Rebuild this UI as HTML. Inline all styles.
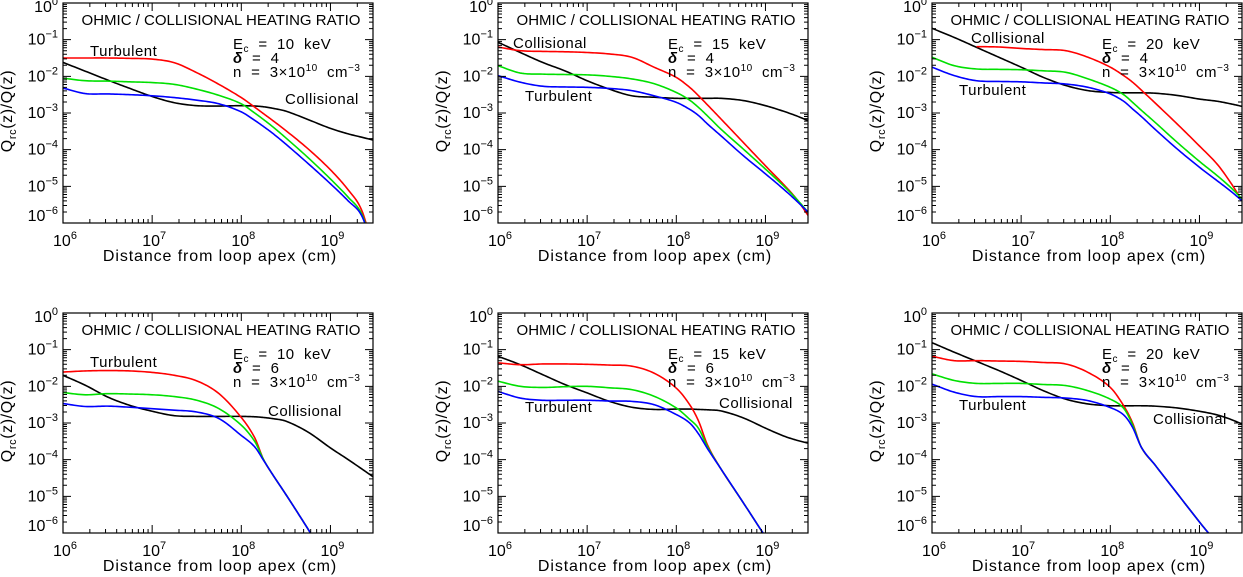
<!DOCTYPE html>
<html><head><meta charset="utf-8"><style>
html,body{margin:0;padding:0;background:#fff;overflow:hidden;width:1243px;height:577px;}
svg{display:block;font-family:"Liberation Sans",sans-serif;overflow:hidden;}
text{white-space:pre;}
</style></head><body>
<svg id="fig" width="1243" height="577" viewBox="0 0 1243 577" xmlns="http://www.w3.org/2000/svg"></svg>
<script>
// shared x grid: log10(distance/cm)
const xLog = [6,6.25,6.5,6.75,7,7.25,7.5,7.75,8,8.15,8.25,8.35,8.5,8.75,9,9.2,9.35,9.48];
const xTickExps = [6,7,8,9];
const yTickExps = [0,-1,-2,-3,-4,-5,-6];
// log10 of ratio; null = not drawn
const p1Red   = [-1.5,-1.5,-1.5,-1.51,-1.53,-1.63,-1.9,-2.22,-2.58,-2.84,-3.02,-3.2,-3.48,-3.98,-4.55,-5.1,-5.65,-6.7];
const p1Green = [-2.05,-2.12,-2.13,-2.15,-2.17,-2.22,-2.35,-2.52,-2.75,-3.0,-3.18,-3.37,-3.68,-4.22,-4.8,-5.3,-5.75,-6.7];
const p1Blue  = [-2.32,-2.47,-2.48,-2.5,-2.53,-2.58,-2.65,-2.75,-2.97,-3.2,-3.37,-3.55,-3.85,-4.38,-4.93,-5.4,-5.8,-6.7];
const p1Black = [-1.62,-1.86,-2.1,-2.33,-2.55,-2.72,-2.8,-2.81,-2.8,-2.81,-2.83,-2.87,-2.95,-3.18,-3.42,-3.57,-3.66,-3.74];
const p2Red   = [-1.2,-1.3,-1.32,-1.33,-1.35,-1.39,-1.48,-1.75,-2.03,-2.3,-2.53,-2.78,-3.16,-3.8,-4.44,-4.94,-5.35,-5.8];
const p2Green = [-1.71,-1.91,-1.94,-1.95,-1.96,-2.0,-2.07,-2.2,-2.44,-2.65,-2.85,-3.08,-3.44,-3.98,-4.53,-4.98,-5.35,-5.71];
const p2Blue  = [-1.98,-2.16,-2.27,-2.29,-2.3,-2.33,-2.39,-2.53,-2.71,-2.9,-3.07,-3.3,-3.62,-4.16,-4.66,-5.07,-5.4,-5.71];
const p2Black = [-1.07,-1.35,-1.62,-1.85,-2.12,-2.35,-2.53,-2.57,-2.6,-2.6,-2.6,-2.6,-2.6,-2.66,-2.8,-2.95,-3.08,-3.21];
const p3Red   = [null,null,-1.19,-1.2,-1.24,-1.27,-1.3,-1.48,-1.75,-1.98,-2.16,-2.38,-2.72,-3.3,-3.9,-4.4,-4.9,-5.4];
const p3Green = [-1.48,-1.71,-1.8,-1.81,-1.82,-1.85,-1.89,-2.07,-2.3,-2.5,-2.71,-2.93,-3.25,-3.8,-4.32,-4.71,-5.03,-5.35];
const p3Blue  = [-1.75,-1.98,-2.12,-2.14,-2.15,-2.18,-2.21,-2.3,-2.48,-2.68,-2.89,-3.1,-3.44,-3.98,-4.48,-4.85,-5.13,-5.4];
const p3Black = [-0.69,-0.94,-1.21,-1.48,-1.75,-2.03,-2.25,-2.39,-2.44,-2.45,-2.45,-2.45,-2.46,-2.52,-2.62,-2.68,-2.75,-2.82];
const p4Red   = [-1.61,-1.58,-1.57,-1.58,-1.62,-1.7,-1.85,-2.2,-2.85,-3.4,-4.0,-4.4,-4.95,-5.9,-6.9,-7.7,-8.3,-8.8];
const p4Green = [-2.17,-2.23,-2.2,-2.21,-2.23,-2.28,-2.38,-2.61,-3.06,-3.5,-4.0,-4.4,-4.95,-5.9,-6.9,-7.7,-8.3,-8.8];
const p4Blue  = [-2.47,-2.55,-2.54,-2.57,-2.61,-2.65,-2.7,-2.88,-3.34,-3.65,-4.02,-4.4,-4.95,-5.9,-6.9,-7.7,-8.3,-8.8];
const p4Black = [-1.7,-1.97,-2.29,-2.52,-2.68,-2.8,-2.82,-2.82,-2.82,-2.83,-2.85,-2.88,-2.95,-3.25,-3.68,-4.0,-4.25,-4.47];
const p5Red   = [-1.36,-1.41,-1.39,-1.39,-1.4,-1.42,-1.45,-1.64,-2.05,-2.5,-2.95,-3.6,-4.25,-5.17,-6.1,-6.8,-7.4,-7.9];
const p5Green = [-1.86,-2.0,-2.03,-2.01,-2.0,-2.04,-2.09,-2.27,-2.59,-2.9,-3.15,-3.65,-4.25,-5.17,-6.1,-6.8,-7.4,-7.9];
const p5Blue  = [-2.14,-2.32,-2.38,-2.38,-2.38,-2.4,-2.41,-2.5,-2.77,-3.0,-3.3,-3.7,-4.25,-5.17,-6.1,-6.8,-7.4,-7.9];
const p5Black = [-1.18,-1.41,-1.68,-1.95,-2.18,-2.41,-2.57,-2.63,-2.62,-2.62,-2.63,-2.64,-2.67,-2.86,-3.14,-3.35,-3.47,-3.55];
const p6Red   = [-1.18,-1.3,-1.3,-1.31,-1.32,-1.35,-1.39,-1.62,-2.03,-2.53,-3.0,-3.67,-4.14,-4.92,-5.7,-6.3,-6.8,-7.2];
const p6Green = [-1.66,-1.84,-1.92,-1.92,-1.92,-1.95,-1.98,-2.12,-2.35,-2.6,-3.05,-3.67,-4.14,-4.92,-5.7,-6.3,-6.8,-7.2];
const p6Blue  = [-1.94,-2.16,-2.28,-2.28,-2.28,-2.3,-2.32,-2.39,-2.58,-2.78,-3.12,-3.67,-4.14,-4.92,-5.7,-6.3,-6.8,-7.2];
const p6Black = [-0.81,-1.07,-1.32,-1.57,-1.84,-2.12,-2.35,-2.48,-2.53,-2.53,-2.53,-2.53,-2.54,-2.59,-2.68,-2.78,-2.9,-3.03];
const panelEc = ["10","15","20","10","15","20"];
const panelDelta = ["4","4","4","6","6","6"];

const NS="http://www.w3.org/2000/svg";
const svg=document.getElementById('fig');
function mk(tag,attrs,parent){const e=document.createElementNS(NS,tag);for(const k in attrs)e.setAttribute(k,attrs[k]);(parent||svg).appendChild(e);return e;}

const PW=310, PH=220, XMIN=6, XMAX=Math.log10(3e9), YMIN=-6, YMAX=0;
const panels=[
 {left:63,top:3,series:[p1Black,p1Red,p1Green,p1Blue],turb:[90,56],coll:[285,104]},
 {left:498,top:3,series:[p2Black,p2Red,p2Green,p2Blue],turb:[525,101],coll:[513,48]},
 {left:932,top:3,series:[p3Black,p3Red,p3Green,p3Blue],turb:[959,95],coll:[971,43]},
 {left:63,top:313,series:[p4Black,p4Red,p4Green,p4Blue],turb:[90,367],coll:[268,416]},
 {left:498,top:313,series:[p5Black,p5Red,p5Green,p5Blue],turb:[525,412],coll:[719,408]},
 {left:932,top:313,series:[p6Black,p6Red,p6Green,p6Blue],turb:[959,410],coll:[1153,424]}
];
const colors=["#000","#ff0000","#00e000","#0000ff"];
const sNames=["collisional-curve","red-curve","green-curve","blue-curve"];

function smoothSample(xs,ys){
  const n=xs.length, m=new Array(n);
  for(let i=0;i<n;i++){
    if(i===0) m[i]=(ys[1]-ys[0])/(xs[1]-xs[0]);
    else if(i===n-1) m[i]=(ys[n-1]-ys[n-2])/(xs[n-1]-xs[n-2]);
    else m[i]=(ys[i+1]-ys[i-1])/(xs[i+1]-xs[i-1]);
  }
  const out=[];
  for(let i=0;i<n-1;i++){const h=xs[i+1]-xs[i];
    for(let k=0;k<12;k++){const t=k/12,t2=t*t,t3=t2*t;
      const y=(2*t3-3*t2+1)*ys[i]+(t3-2*t2+t)*h*m[i]+(-2*t3+3*t2)*ys[i+1]+(t3-t2)*h*m[i+1];
      out.push([xs[i]+t*h,y]);}}
  out.push([xs[n-1],ys[n-1]]);
  return out;
}

panels.forEach((p,pi)=>{
  const g=mk('g',{});
  
  
  const sx=v=>p.left+(v-XMIN)/(XMAX-XMIN)*PW;
  const sy=v=>p.top+(YMAX-v)/(YMAX-YMIN)*PH;
  const cp=mk('clipPath',{id:'clip'+pi},g);
  mk('rect',{x:p.left,y:p.top,width:PW,height:PH},cp);
  p.series.forEach((arr,si)=>{
    const xs=[],ys=[];
    arr.forEach((v,i)=>{if(v!==null){xs.push(xLog[i]);ys.push(v);}});
    const pts=smoothSample(xs,ys);
    const path=mk('path',{d:pts.map((q,i)=>(i?'L':'M')+sx(q[0]).toFixed(2)+','+sy(q[1]).toFixed(2)).join(''),fill:'none',stroke:colors[si],'stroke-width':1.6,'clip-path':'url(#clip'+pi+')'},g);
    
    
  });
  const fr=mk('rect',{x:p.left,y:p.top,width:PW,height:PH,fill:'none',stroke:'#000','stroke-width':1.2},g);
  
  
  let td='';
  for(let e=6;e<=9;e++){for(let k=1;k<=9;k++){const v=e+Math.log10(k); if(v>XMAX)break; const x=sx(v); const L=k===1?8:4;
    td+=`M${x},${p.top+PH}v${-L}M${x},${p.top}v${L}`;}}
  for(let e=-6;e<0;e++){for(let k=1;k<=9;k++){const v=e+Math.log10(k); const y=sy(v); const L=k===1?8:4;
    td+=`M${p.left},${y}h${L}M${p.left+PW},${y}h${-L}`;}}
  const tk=mk('path',{d:td,stroke:'#000','stroke-width':1,fill:'none'},g);
  
  
  xTickExps.forEach(e=>{
    const t=mk('text',{x:sx(e)+2,y:p.top+PH+23,'font-size':16,'text-anchor':'middle'},g);
    
    
    t.innerHTML='10<tspan dy="-7" font-size="11">'+e+'</tspan>';
  });
  yTickExps.forEach(e=>{
    let y=sy(e)+5; if(e===0)y=p.top+9; if(e===-6)y=p.top+PH-2;
    const t=mk('text',{x:p.left-5,y:y,'font-size':16,'text-anchor':'end'},g);
    
    
    t.innerHTML='10<tspan dy="-7" font-size="11">'+(e===0?'0':'\u2212'+(-e))+'</tspan>';
  });
  const xl=mk('text',{x:p.left+PW/2+2,y:p.top+PH+38,'font-size':16,'letter-spacing':'0.9','text-anchor':'middle'},g);
  
  
  xl.textContent='Distance from loop apex (cm)';
  const cy=p.top+PH/2-2;
  const yl=mk('text',{x:p.left-51,y:cy,'font-size':16,'letter-spacing':'0.6','text-anchor':'middle',transform:`rotate(-90 ${p.left-51} ${cy})`},g);
  
  
  yl.innerHTML='Q<tspan dy="4" font-size="11">rc</tspan><tspan dy="-4">(z)/Q(z)</tspan>';
  const ti=mk('text',{x:p.left+PW/2+3,y:p.top+22,'font-size':15,'text-anchor':'middle'},g);
  
  
  ti.textContent='OHMIC / COLLISIONAL HEATING RATIO';
  const px=p.left+170;
  const t1=mk('text',{x:px,y:p.top+46,'font-size':15,'letter-spacing':'0.5'},g);
  
  
  t1.innerHTML='E<tspan dy="3" font-size="10">c</tspan><tspan dy="-3">  =  '+panelEc[pi]+'  keV</tspan>';
  const t2=mk('text',{x:px,y:p.top+60,'font-size':15,'letter-spacing':'0.5'},g);
  
  
  t2.innerHTML='<tspan font-style="italic" font-weight="bold">\u03b4</tspan>  =  '+panelDelta[pi];
  const t3=mk('text',{x:px,y:p.top+74,'font-size':15,'letter-spacing':'0.5'},g);
  
  
  t3.innerHTML='n  =  3\u00d710<tspan dy="-6" font-size="10">10</tspan><tspan dy="6">  cm</tspan><tspan dy="-6" font-size="10">\u22123</tspan>';
  const tl=mk('text',{x:p.turb[0],y:p.turb[1],'font-size':15,'letter-spacing':'0.5'},g);
  
  
  tl.textContent='Turbulent';
  const cl=mk('text',{x:p.coll[0],y:p.coll[1],'font-size':15,'letter-spacing':'0.5'},g);
  
  
  cl.textContent='Collisional';
});
</script>
</body></html>
